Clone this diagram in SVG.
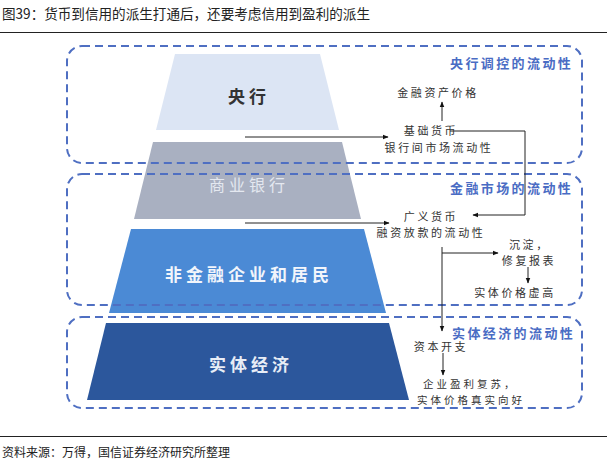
<svg xmlns="http://www.w3.org/2000/svg" width="607" height="474" viewBox="0 0 607 474">
<style>
.t{font-family:"Noto Sans CJK SC","Liberation Sans",sans-serif;}
.cap{font-size:14px;fill:#222;}
.src{font-size:12px;fill:#222;}
.trap{font-size:17px;font-weight:bold;letter-spacing:4px;}
.lab{font-size:13px;font-weight:bold;fill:#4a6cc4;letter-spacing:2.4px;}
.txt{font-size:11px;fill:#333;letter-spacing:2.6px;}
.sm{font-size:10.5px;letter-spacing:3px;}
.box{fill:none;stroke:#4f6fc2;stroke-width:2;stroke-dasharray:8 5;}
.ln{fill:none;stroke:#222;stroke-width:1;}
</style>
<defs>
<marker id="ah" viewBox="0 0 10 10" refX="9" refY="5" markerWidth="6" markerHeight="6" orient="auto" markerUnits="userSpaceOnUse">
<path d="M0,1 L10,5 L0,9 z" fill="#111"/>
</marker>
</defs>
<rect width="607" height="474" fill="#fff"/>
<text class="t cap" x="2" y="19" textLength="368" lengthAdjust="spacingAndGlyphs">图39：货币到信用的派生打通后，还要考虑信用到盈利的派生</text>
<line x1="0" y1="32.5" x2="607" y2="32.5" stroke="#222" stroke-width="1.2"/>

<g id="node-central-bank">
<polygon points="175,54 320,54 339,130 156,130" fill="#dce5f4"/>
<text class="t trap" x="249" y="103" text-anchor="middle" fill="#333">央行</text>
</g>
<g id="node-commercial-bank">
<polygon points="153,142 342,142 361,219 134,219" fill="#a9b0c1"/>
<text class="t trap" x="249" y="191" text-anchor="middle" fill="#e4e8f0" style="font-weight:normal;font-size:16px">商业银行</text>
</g>
<g id="node-nonfin">
<polygon points="131,229 364,229 386,313 109,313" fill="#4b8ad5"/>
<text class="t trap" x="249" y="281" text-anchor="middle" fill="#f2f5fb">非金融企业和居民</text>
</g>
<g id="node-real-economy">
<polygon points="106,323 389,323 409,400 87,400" fill="#2c579c"/>
<text class="t trap" x="251" y="371" text-anchor="middle" fill="#e8edf6">实体经济</text>
</g>

<g id="box-central">
<rect class="box" x="67" y="46" width="515" height="117" rx="15"/>
<text class="t lab" x="450" y="68">央行调控的流动性</text>
</g>
<g id="box-market">
<rect class="box" x="67" y="174" width="515" height="131" rx="15"/>
<text class="t lab" x="450" y="193">金融市场的流动性</text>
</g>
<g id="box-real">
<rect class="box" x="67" y="317" width="515" height="91" rx="15"/>
<text class="t lab" x="452" y="338">实体经济的流动性</text>
</g>

<g id="connectors">
<line class="ln" x1="245" y1="137" x2="388" y2="137" marker-end="url(#ah)"/>
<line class="ln" x1="442" y1="121" x2="442" y2="102" marker-end="url(#ah)"/>
<polyline class="ln" points="450,131 525,131 525,215 473,215" marker-end="url(#ah)"/>
<line class="ln" x1="245" y1="223" x2="389" y2="223" marker-end="url(#ah)"/>
<line class="ln" x1="442" y1="247" x2="442" y2="331" marker-end="url(#ah)"/>
<line class="ln" x1="442" y1="253" x2="498" y2="253" marker-end="url(#ah)"/>
<line class="ln" x1="528" y1="267" x2="528" y2="283" marker-end="url(#ah)"/>
<line class="ln" x1="443" y1="353" x2="443" y2="375" marker-end="url(#ah)"/>
</g>

<g id="labels">
<text class="t txt" x="438" y="97" text-anchor="middle">金融资产价格</text>
<text class="t txt" x="431" y="135" text-anchor="middle">基础货币</text>
<text class="t txt" x="439" y="152" text-anchor="middle">银行间市场流动性</text>
<text class="t txt" x="431" y="221" text-anchor="middle">广义货币</text>
<text class="t txt" x="431" y="237" text-anchor="middle">融资放款的流动性</text>
<text class="t txt" x="509" y="249">沉淀，</text>
<text class="t txt" x="529" y="265" text-anchor="middle">修复报表</text>
<text class="t txt" x="515" y="297" text-anchor="middle">实体价格虚高</text>
<text class="t txt" x="441" y="351" text-anchor="middle">资本开支</text>
<text class="t txt sm" x="423" y="388">企业盈利复苏，</text>
<text class="t txt sm" x="471" y="403.5" text-anchor="middle">实体价格真实向好</text>
</g>

<line x1="0" y1="436.5" x2="607" y2="436.5" stroke="#222" stroke-width="1.2"/>
<text class="t src" x="2" y="457">资料来源：万得，国信证券经济研究所整理</text>
</svg>
